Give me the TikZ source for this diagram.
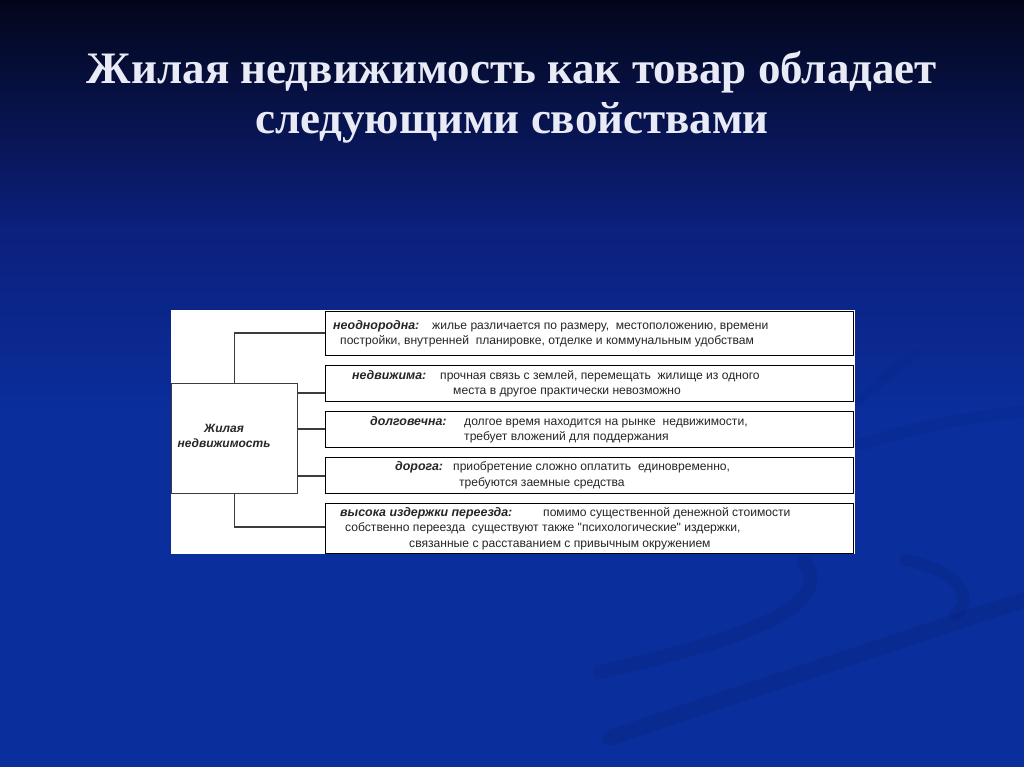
\documentclass[tikz,border=0pt]{standalone}
\usepackage{fontspec}
\setmainfont{Liberation Serif}
\newfontfamily\arialf{Liberation Sans}
\definecolor{bgtop}{RGB}{3,6,26}
\definecolor{bgmid}{RGB}{12,32,125}
\definecolor{bgbot}{RGB}{10,46,156}
\definecolor{swoosh}{RGB}{4,28,110}
\definecolor{linec}{RGB}{60,60,60}
\definecolor{titlec}{RGB}{232,234,245}
\pgfdeclareverticalshading{bgshade}{100bp}{color(0bp)=(bgbot); color(25bp)=(bgbot); color(48bp)=(bgbot); color(60bp)=(bgmid); color(75bp)=(bgtop); color(100bp)=(bgtop)}
\tikzset{
  infobox/.style={draw=black, line width=1.1pt, fill=white, minimum width=528pt, inner sep=0pt, anchor=north west},
  mainbox/.style={draw=linec, line width=0.7pt, fill=white, minimum width=126pt, minimum height=110pt, inner sep=0pt, anchor=north west},
  conn/.style={draw=linec, line width=1.2pt},
  txt/.style={font=\arialf\fontsize{12.1}{13}\selectfont, anchor=base west, inner sep=0pt, text=black!85},
  lbl/.style={font=\arialf\bfseries\itshape\fontsize{12.4}{13}\selectfont, anchor=base west, inner sep=0pt, text=black!85},
  title/.style={font=\bfseries\fontsize{45}{50}\selectfont, text=titlec, anchor=base, inner sep=0pt},
}
\begin{document}
\begin{tikzpicture}[x=1pt,y=-1pt]
\useasboundingbox (0,0) rectangle (1024,767);
\shade[shading=bgshade] (0,0) rectangle (1024,767);
% background swooshes
\begin{scope}[opacity=0.22]
\draw[swoosh, line width=14pt, line cap=round] (600,672) .. controls (720,645) and (840,610) .. (804,562);
\draw[swoosh, line width=16pt, line cap=round] (610,738) .. controls (780,680) and (900,640) .. (1024,600);
\draw[swoosh, line width=12pt, line cap=round] (905,560) .. controls (960,570) and (975,600) .. (955,615);
\end{scope}
\begin{scope}[opacity=0.12]
\draw[swoosh, line width=12pt, line cap=round] (860,445) .. controls (920,425) and (980,415) .. (1024,412);
\draw[swoosh, line width=10pt, line cap=round] (860,400) .. controls (880,380) and (900,365) .. (915,355);
\end{scope}
% title
\node[title] (t1) at (512,84) {Жилая недвижимость как товар обладает};
\node[title] (t2) at (512,134) {следующими свойствами};
% white panel
\fill[white] (171,310) rectangle (855,554);
% boxes
\node[infobox, minimum height=44pt] (b1) at (325,311) {};
\node[infobox, minimum height=36pt] (b2) at (325,365) {};
\node[infobox, minimum height=36pt] (b3) at (325,411) {};
\node[infobox, minimum height=36pt] (b4) at (325,457) {};
\node[infobox, minimum height=50pt] (b5) at (325,503) {};
\node[mainbox] (m) at (171,383) {};
\node[font=\arialf\bfseries\itshape\fontsize{12}{15}\selectfont, align=center, text=black!85] (mt) at (224,436) {Жилая\\недвижимость};
% connectors
\draw[conn] (b1.west |- 0,333) coordinate (c1) -| (m.north);
\draw[conn] (b5.west |- 0,527) coordinate (c5) -| (m.south);
\coordinate (c2) at (b2.west |- 0,393);
\coordinate (c3) at (b3.west |- 0,429);
\coordinate (c4) at (b4.west |- 0,476);
\draw[conn] (m.east |- c2) -- (c2);
\draw[conn] (m.east |- c3) -- (c3);
\draw[conn] (m.east |- c4) -- (c4);
% texts
\node[lbl] (l1) at (333,329) {неоднородна:};
\node[txt] (x1a) at (432,329) {жилье различается по размеру,\ \ местоположению, времени};
\node[txt] (x1b) at (340,344) {постройки, внутренней\ \ планировке, отделке и коммунальным удобствам};
\node[lbl] (l2) at (352,379) {недвижима:};
\node[txt] (x2a) at (440,379) {прочная связь с землей, перемещать\ \ жилище из одного};
\node[txt] (x2b) at (453,394) {места в другое практически невозможно};
\node[lbl] (l3) at (370,425) {долговечна:};
\node[txt] (x3a) at (464,425) {долгое время находится на рынке\ \ недвижимости,};
\node[txt] (x3b) at (464,440) {требует вложений для поддержания};
\node[lbl] (l4) at (395,470) {дорога:};
\node[txt] (x4a) at (453,470) {приобретение сложно оплатить\ \ единовременно,};
\node[txt] (x4b) at (459,486) {требуются заемные средства};
\node[lbl] (l5) at (340,516) {высока издержки переезда:};
\node[txt] (x5a) at (543,516) {помимо существенной денежной стоимости};
\node[txt] (x5b) at (345,531) {собственно переезда\ \ существуют также "психологические" издержки,};
\node[txt] (x5c) at (409,547) {связанные с расставанием с привычным окружением};
\end{tikzpicture}
\end{document}
